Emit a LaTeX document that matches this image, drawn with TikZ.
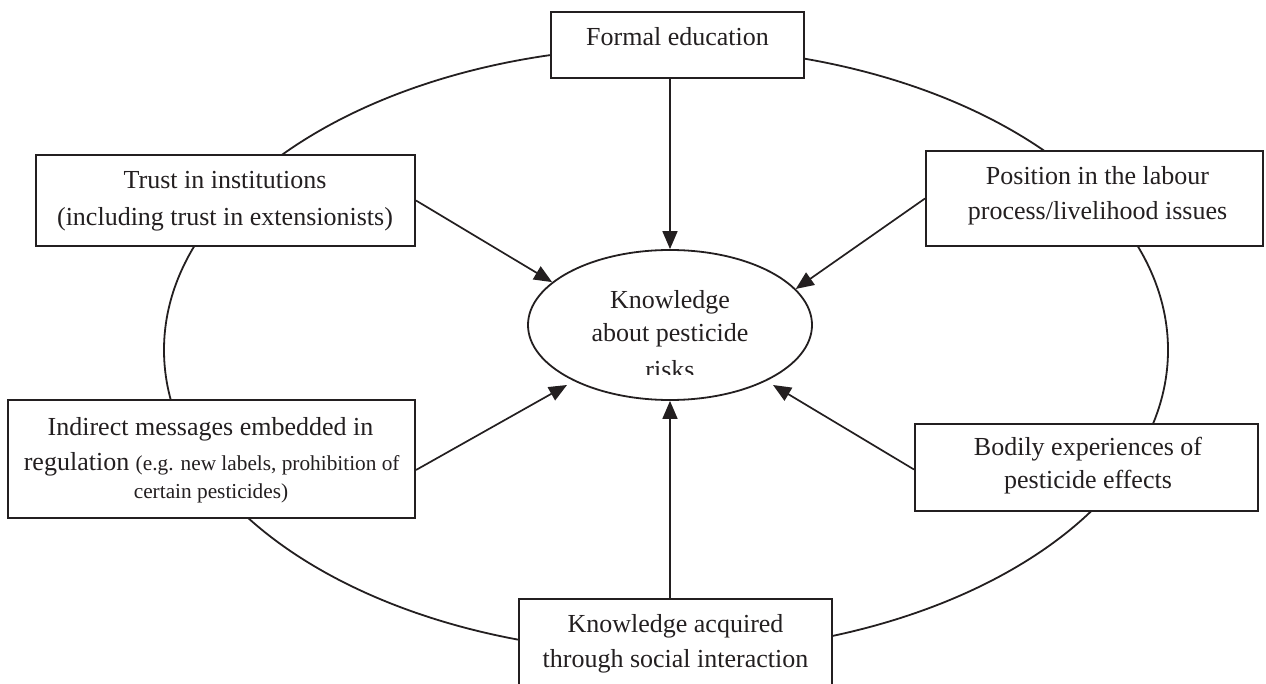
\documentclass[tikz,border=0pt]{standalone}
\usepackage{fontspec}
\setmainfont{Liberation Serif}
\usetikzlibrary{arrows.meta,shapes.geometric}
\definecolor{ink}{HTML}{231F20}
\begin{document}
\begin{tikzpicture}[x=1pt,y=-1pt,
  every node/.style={text=ink},
  box/.style={draw=ink, fill=white, line width=2pt, rectangle, inner sep=0pt},
  txt/.style={anchor=base, inner sep=0pt, font=\fontsize{26}{30}\selectfont},
  small/.style={anchor=base, inner sep=0pt, font=\fontsize{21.3}{25}\selectfont},
  arr/.style={draw=ink, line width=1.7pt, -{Triangle[length=18pt,width=15pt]}},
  curve/.style={draw=ink, line width=1.8pt}]
\useasboundingbox (0,0) rectangle (1266,684);
% outer ellipse
\draw[curve] (666,350) ellipse [x radius=502, y radius=303];
% central ellipse
\node[curve, ellipse, minimum width=284pt, minimum height=150pt, inner sep=0pt] (k) at (670,325) {};
\node[txt] (k1) at (670,309) {Knowledge};
\node[txt] (k2) at (670,342) {about pesticide};
\begin{scope}
  \clip (0,0) rectangle (1266,375);
  \node[txt] (k3) at (670,378) {risks};
\end{scope}
% boxes
\node[box, minimum width=253pt, minimum height=66pt] (formal) at (677.5,45) {};
\node[txt] (formalT) at (677.5,46) {Formal education};
\node[box, minimum width=379pt, minimum height=91pt] (trust) at (225.5,200.5) {};
\node[txt] (trustT1) at (225,189) {Trust in institutions};
\node[txt] (trustT2) at (225,226) {(including trust in extensionists)};
\node[box, minimum width=337pt, minimum height=95pt] (position) at (1094.5,198.5) {};
\node[txt] (posT1) at (1097.5,185) {Position in the labour};
\node[txt] (posT2) at (1097.5,220) {process/livelihood issues};
\node[box, minimum width=407pt, minimum height=118pt] (indirect) at (211.5,459) {};
\node[txt] (indT1) at (210.5,435) {Indirect messages embedded in};
\node[anchor=base, inner sep=0pt] (indT2) at (211.7,470) {\fontsize{26}{30}\selectfont regulation \fontsize{21.3}{25}\selectfont(e.g. new labels, prohibition of};
\node[small] (indT3) at (211,498) {certain pesticides)};
\node[box, minimum width=343pt, minimum height=87pt] (bodily) at (1086.5,467.5) {};
\node[txt] (bodT1) at (1088,455) {Bodily experiences of};
\node[txt] (bodT2) at (1088,488) {pesticide effects};
\node[box, minimum width=313pt, minimum height=121pt] (social) at (675.5,659.5) {};
\node[txt] (socT1) at (675.5,632) {Knowledge acquired};
\node[txt] (socT2) at (675.5,667) {through social interaction};
% arrow ends
\coordinate (kl) at (567,385);
\coordinate (kr) at (773,385);
% arrows
\draw[arr] (k.north |- formal.south) -- (k.north);
\draw[arr] (k.south |- social.north) -- (k.south);
\draw[arr] (trust.east) -- (k.160);
\draw[arr] (position.west) -- (k.16);
\draw[arr] ([yshift=-11pt]indirect.east) -- (kl);
\draw[arr] ([yshift=-2pt]bodily.west) -- (kr);
\end{tikzpicture}
\end{document}
